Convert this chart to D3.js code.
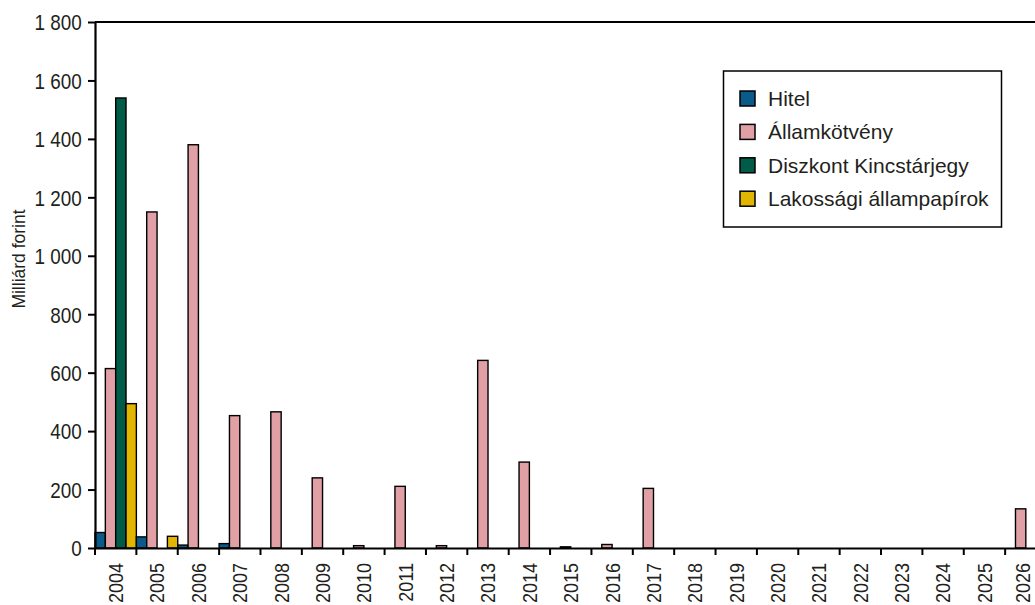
<!DOCTYPE html>
<html>
<head>
<meta charset="utf-8">
<script src="https://cdn.jsdelivr.net/npm/d3@7/dist/d3.min.js"></script>
<style>
  html, body { margin: 0; padding: 0; background: #fff; overflow: hidden; }
  svg { display: block; font-family: "Liberation Sans", Arial, sans-serif; }
</style>
</head>
<body>
<svg id="chart" width="1035" height="605"></svg>
<script>
// Maturity years
const years = ["2004","2005","2006","2007","2008","2009","2010","2011","2012","2013","2014",
               "2015","2016","2017","2018","2019","2020","2021","2022","2023","2024","2025","2026"];

// Series (billion HUF)
const seriesNames = ["Hitel", "Államkötvény", "Diszkont Kincstárjegy", "Lakossági állampapírok"];
const hitel        = [53, 38, 10, 15, 0, 0, 0, 0, 0, 0, 0, 0, 0, 0, 0, 0, 0, 0, 0, 0, 0, 0, 0];
const allamkotveny = [614, 1150, 1380, 453, 466, 240, 8, 211, 8, 642, 294, 4, 12, 204, 0, 0, 0, 0, 0, 0, 0, 0, 134];
const diszkont     = [1540, 0, 0, 0, 0, 0, 0, 0, 0, 0, 0, 0, 0, 0, 0, 0, 0, 0, 0, 0, 0, 0, 0];
const lakossagi    = [494, 40, 0, 0, 0, 0, 0, 0, 0, 0, 0, 0, 0, 0, 0, 0, 0, 0, 0, 0, 0, 0, 0];

const yTicks = [0, 200, 400, 600, 800, 1000, 1200, 1400, 1600, 1800];
const colors = ["#0a5b8a", "#e0a0a5", "#005c46", "#e2b500"];
const seriesValues = [hitel, allamkotveny, diszkont, lakossagi];

const width = 1035;
const svg = d3.select("#chart");
const textColor = "#231f20";

// Plot box
const plotLeft = 95, plotTop = 22, plotBottom = 548, bandW = 41.37;
const plotRight = plotLeft + bandW * years.length;

const x = d3.scaleBand().domain(years).range([plotLeft, plotRight]).paddingInner(0).paddingOuter(0);
const xs = d3.scaleBand().domain(d3.range(seriesNames.length)).range([0, x.bandwidth()]).padding(0);
const y = d3.scaleLinear().domain([0, 1800]).range([plotBottom, plotTop]);

const locale = d3.formatLocale({ decimal: ",", thousands: " ", grouping: [3] });
const fmt = locale.format(",d");

// Bars
const groups = svg.append("g").selectAll("g")
  .data(years)
  .join("g")
  .attr("transform", d => `translate(${x(d)},0)`);

groups.selectAll("rect")
  .data((d, i) => seriesValues.map((vals, s) => ({ s, v: vals[i] })).filter(o => o.v > 0))
  .join("rect")
  .attr("x", d => xs(d.s))
  .attr("width", xs.bandwidth())
  .attr("y", d => y(d.v))
  .attr("height", d => y(0) - y(d.v))
  .attr("fill", d => colors[d.s])
  .attr("stroke", "#000")
  .attr("stroke-width", 1.4);

// Plot frame (top and right edges)
svg.append("path")
  .attr("d", `M${plotLeft},${plotTop}H${plotRight}V${plotBottom}`)
  .attr("fill", "none")
  .attr("stroke", "#000")
  .attr("stroke-width", 2);

// Y axis (condensed digits via horizontal scaling)
const yAxis = svg.append("g")
  .attr("transform", `translate(${plotLeft},0)`)
  .call(d3.axisLeft(y).tickValues(yTicks).tickFormat(fmt).tickSize(7).tickSizeOuter(0));
yAxis.select(".domain").attr("stroke", "#000").attr("stroke-width", 2.2);
yAxis.selectAll(".tick line").attr("stroke", "#000").attr("stroke-width", 2);
yAxis.selectAll(".tick text")
  .attr("font-size", 22.5)
  .attr("fill", textColor)
  .attr("x", 0)
  .attr("dy", "0.35em")
  .attr("transform", "translate(-13.3,0) scale(0.84,1)");

// X axis: labels at band centres, tick marks at band boundaries
const xAxis = svg.append("g")
  .attr("transform", `translate(0,${plotBottom})`)
  .call(d3.axisBottom(x).tickSize(0).tickSizeOuter(0));
xAxis.select(".domain").attr("stroke", "#000").attr("stroke-width", 2.2);
xAxis.selectAll(".tick text")
  .attr("font-size", 20.5)
  .attr("fill", textColor)
  .attr("text-anchor", "end")
  .attr("x", 0)
  .attr("y", 0)
  .attr("dy", "0.35em")
  .attr("transform", "rotate(-90) translate(-15,0.2) scale(0.88,1)");

// Keep labels near the right edge fully inside the canvas
xAxis.selectAll(".tick text").each(function () {
  const box = this.getBoundingClientRect();
  const over = box.right - (width - 1);
  if (over > 0) {
    d3.select(this).attr("transform", `rotate(-90) translate(-15,${0.2 - over}) scale(0.88,1)`);
  }
});

xAxis.append("g").selectAll("line")
  .data(years)
  .join("line")
  .attr("x1", d => x(d))
  .attr("x2", d => x(d))
  .attr("y1", 0)
  .attr("y2", 7)
  .attr("stroke", "#000")
  .attr("stroke-width", 2);

// Y axis title
svg.append("text")
  .attr("transform", "translate(19,259) rotate(-90)")
  .attr("text-anchor", "middle")
  .attr("dy", "0.35em")
  .attr("font-size", 17.5)
  .attr("fill", textColor)
  .text("Milliárd forint");

// Legend
const legend = svg.append("g");
legend.append("rect")
  .attr("x", 723.5).attr("y", 71)
  .attr("width", 278).attr("height", 156)
  .attr("fill", "#fff")
  .attr("stroke", "#000")
  .attr("stroke-width", 1.5);

const rowY = i => 98.5 + i * 33.4;
const items = legend.selectAll("g.item")
  .data(seriesNames)
  .join("g")
  .attr("class", "item")
  .attr("transform", (d, i) => `translate(740,${rowY(i)})`);
items.append("rect")
  .attr("x", 0).attr("y", -7.5)
  .attr("width", 15).attr("height", 15)
  .attr("fill", (d, i) => colors[i])
  .attr("stroke", "#000")
  .attr("stroke-width", 1.5);
items.append("text")
  .attr("x", 28)
  .attr("dy", "0.36em")
  .attr("font-size", 21)
  .attr("fill", textColor)
  .text(d => d);
</script>
</body>
</html>
